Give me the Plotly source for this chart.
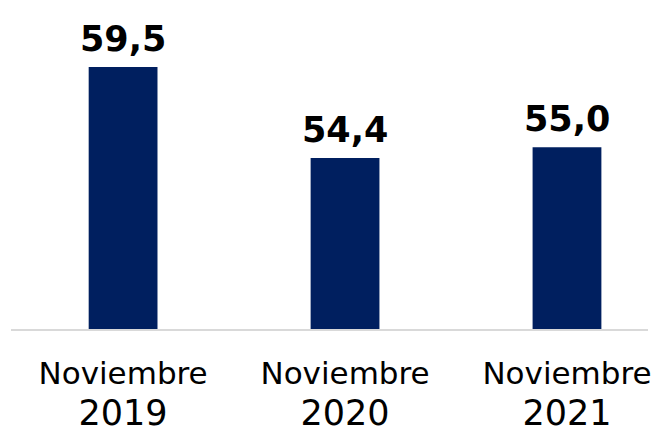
import plotly.graph_objects as go

categories = ["Noviembre 2019", "Noviembre 2020", "Noviembre 2021"]
month_labels = ["Noviembre", "Noviembre", "Noviembre"]
year_labels = ["2019", "2020", "2021"]
values = [59.5, 54.4, 55.0]

bar_color = "#001F5F"
xpos = list(range(len(categories)))

fig = go.Figure()
fig.add_trace(go.Bar(
    x=xpos,
    y=values,
    width=0.31,
    marker=dict(color=bar_color, line=dict(width=0)),
    hoverinfo="skip",
))

for xi, v in zip(xpos, values):
    fig.add_annotation(
        x=xi, y=v, xref="x", yref="y",
        text=f"<b>{v:.1f}</b>".replace(".", ","),
        showarrow=False, yanchor="bottom", yshift=6,
        font=dict(family="DejaVu Sans", size=35, color="#000000"),
    )

ticktext = [f"{m}<br><span style='font-size:35px'>{y}</span>" for m, y in zip(month_labels, year_labels)]

fig.update_layout(
    width=662, height=435,
    margin=dict(l=11, r=14, t=0, b=106, autoexpand=False),
    plot_bgcolor="white", paper_bgcolor="white",
    showlegend=False,
    font=dict(family="DejaVu Sans", color="#000000"),
    xaxis=dict(
        range=[-0.505, 2.365],
        tickmode="array", tickvals=xpos, ticktext=ticktext,
        tickfont=dict(family="DejaVu Sans", size=31, color="#000000"),
        showline=True, linecolor="#D9D9D9", linewidth=2,
        showgrid=False, zeroline=False, ticks="",
        ticklabelstandoff=16, automargin=False,
    ),
    yaxis=dict(
        range=[44.8, 44.8 + 18.46],
        visible=False, showgrid=False, zeroline=False, automargin=False,
    ),
)

fig.write_html("out.html", config={"displayModeBar": False},
               post_script="document.body.style.margin='0';")
